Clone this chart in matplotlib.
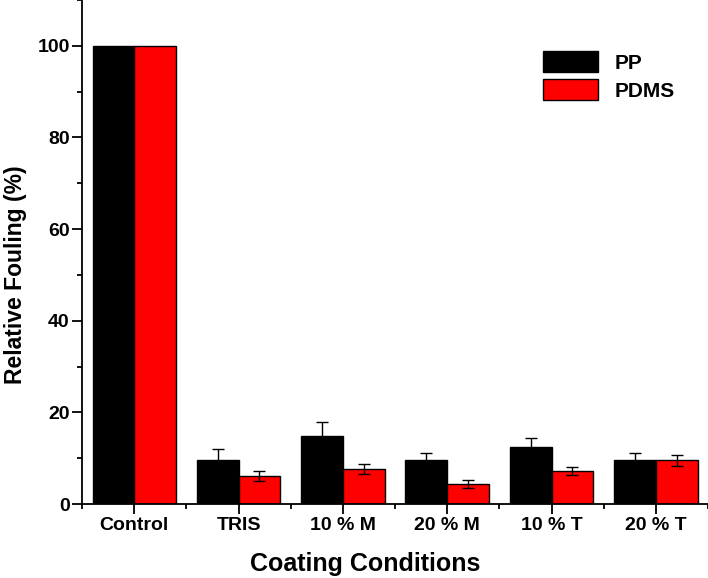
import numpy as np
import matplotlib
matplotlib.use('Agg')
import matplotlib.pyplot as plt
from matplotlib.ticker import MultipleLocator

plt.rcParams['font.family'] = ['Liberation Sans', 'DejaVu Sans']
plt.rcParams['font.weight'] = 'bold'

conditions = ['Control', 'TRIS', '10 % M', '20 % M', '10 % T', '20 % T']
pp_values = [100, 9.6, 14.9, 9.6, 12.5, 9.6]
pp_errors = [0, 2.4, 3.0, 1.6, 2.0, 1.6]
pdms_values = [100, 6.1, 7.6, 4.4, 7.2, 9.5]
pdms_errors = [0, 1.1, 1.1, 0.8, 0.8, 1.1]

x = np.arange(len(conditions))
width = 0.4

fig = plt.figure(figsize=(7.08, 5.78), dpi=100)
ax = fig.add_axes([0.116, 0.128, 0.884, 0.872])

ax.bar(x - width / 2, pp_values, width, color='black', edgecolor='black',
       linewidth=1, label='PP')
ax.bar(x + width / 2, pdms_values, width, color='#ff0000', edgecolor='black',
       linewidth=1, label='PDMS')

# control is the reference (100 %), no error bars there
ax.errorbar(x[1:] - width / 2, pp_values[1:], yerr=pp_errors[1:], fmt='none',
            ecolor='black', elinewidth=1, capsize=4, capthick=1)
ax.errorbar(x[1:] + width / 2, pdms_values[1:], yerr=pdms_errors[1:], fmt='none',
            ecolor='black', elinewidth=1, capsize=4, capthick=1)

ax.set_xlim(-0.5, 5.5)
ax.set_ylim(0, 110)
ax.set_xticks(x)
ax.set_xticklabels(conditions)
ax.xaxis.set_minor_locator(MultipleLocator(0.5))
ax.yaxis.set_major_locator(MultipleLocator(20))
ax.yaxis.set_minor_locator(MultipleLocator(10))
ax.tick_params(axis='both', which='major', direction='out', length=7, width=1.3,
               labelsize=14, pad=2)
ax.tick_params(axis='both', which='minor', direction='out', length=3.5, width=1.3)
for lab in ax.get_xticklabels() + ax.get_yticklabels():
    lab.set_fontweight('bold')

ax.spines['top'].set_visible(False)
ax.spines['right'].set_visible(False)
ax.spines['left'].set_linewidth(1.3)
ax.spines['bottom'].set_linewidth(1.3)

ax.set_xlabel('Coating Conditions', fontsize=18, fontweight='bold')
ax.set_ylabel('Relative Fouling (%)', fontsize=16.5, fontweight='bold')
ax.xaxis.set_label_coords(0.452, -0.095)
ax.yaxis.set_label_coords(-0.088, 0.455)

ax.legend(loc='upper left', bbox_to_anchor=(0.707, 0.936), frameon=False,
          handlelength=2.6, handleheight=1.2, labelspacing=0.3,
          prop={'weight': 'bold', 'size': 15})

fig.savefig('out.png', dpi=100)
